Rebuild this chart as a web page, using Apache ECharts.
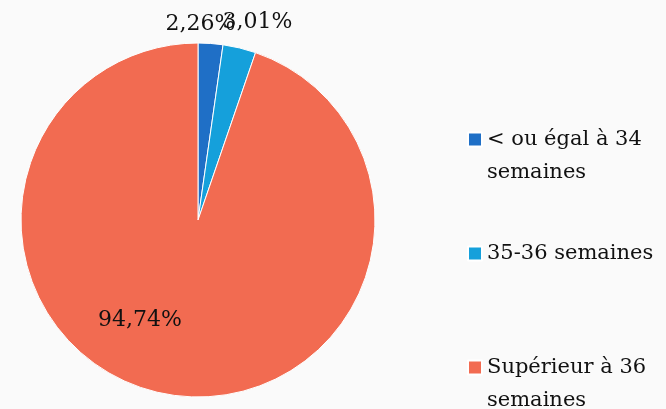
<!DOCTYPE html>
<html>
<head>
<meta charset="utf-8">
<script src="https://cdn.jsdelivr.net/npm/echarts@6/dist/echarts.min.js"></script>
<style>
  html, body { margin: 0; padding: 0; background: #fafafa; }
  #chart { width: 666px; height: 409px; }
</style>
</head>
<body>
<div id="chart"></div>
<script>
// parts of the total, in %
var categories = ['< ou égal à 34 semaines', '35-36 semaines', 'Supérieur à 36 semaines'];
var values = [2.26, 3.01, 94.74];
var labels = ['2,26%', '3,01%', '94,74%'];
var colors = ['#1f6fc6', '#15a0db', '#f26b51'];

// label nudges from the inside position
var labelShift = [[-4, -104], [38, -109], [-43, 10]];

var font = 'DejaVu Serif';

var pieData = [];
for (var i = 0; i < categories.length; i++) {
    pieData.push({ name: categories[i], value: values[i], itemStyle: { color: colors[i] } });
}

// wrapped legend text, first line kept beside the square
var legendText = {
    '< ou égal à 34 semaines': '\n< ou égal à 34\nsemaines',
    '35-36 semaines': '35-36 semaines',
    'Supérieur à 36 semaines': '\nSupérieur à 36\nsemaines'
};
var legendTops = [90, 237, 318];

var legends = [];
for (var j = 0; j < categories.length; j++) {
    legends.push({
        data: [categories[j]],
        left: 467,
        top: legendTops[j],
        padding: 0,
        icon: 'rect',
        itemWidth: 14,
        itemHeight: 14,
        selectedMode: false,
        formatter: function (name) { return legendText[name]; },
        textStyle: { fontFamily: font, fontSize: 21, color: '#111', lineHeight: 33 }
    });
}

var option = {
    backgroundColor: '#fafafa',
    animation: false,
    legend: legends,
    series: [
        {
            type: 'pie',
            center: [198, 220],
            radius: 177,
            startAngle: 90,
            clockwise: true,
            data: pieData,
            itemStyle: { borderColor: '#ffffff', borderWidth: 1 },
            label: {
                show: true,
                position: 'inside',
                fontFamily: font,
                fontSize: 22,
                color: '#111',
                formatter: function (p) { return labels[p.dataIndex]; }
            },
            labelLine: { show: false },
            labelLayout: function (p) {
                return { dx: labelShift[p.dataIndex][0], dy: labelShift[p.dataIndex][1] };
            }
        }
    ]
};

var myChart = echarts.init(document.getElementById('chart'));
myChart.setOption(option);
</script>
</body>
</html>
